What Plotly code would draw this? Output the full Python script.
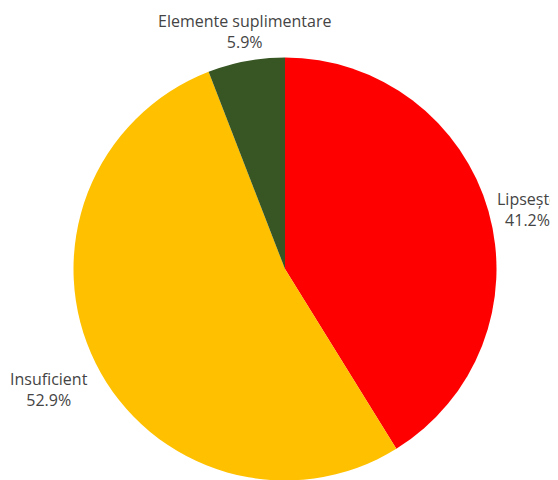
import math
import plotly.graph_objects as go

labels = ["Lipsește", "Insuficient", "Elemente suplimentare"]
values = [7, 9, 1]
colors = ["#FF0000", "#FFC000", "#375623"]

W, H = 558, 480
CX, CY, R = 277.0, 261.0, 211.5   # pie centre and radius in figure pixels (from top-left)
LABEL_R = 1.03 * R

fig = go.Figure(go.Pie(
    labels=labels,
    values=values,
    sort=False,
    direction="clockwise",
    rotation=0,
    marker=dict(colors=colors, line=dict(width=0)),
    textinfo="none",
    automargin=False,
    showlegend=False,
    domain=dict(x=[(CX - R) / W, (CX + R) / W], y=[(H - CY - R) / H, (H - CY + R) / H]),
    hoverinfo="label+percent",
))

# outside labels placed at each slice's mid-angle
total = sum(values)
cum = 0.0
annotations = []
for lab, v in zip(labels, values):
    frac = v / total
    mid = (cum + frac / 2) * 2 * math.pi
    cum += frac
    s, c = math.sin(mid), math.cos(mid)
    px = CX + LABEL_R * s
    py = CY - LABEL_R * c
    xanchor = "left" if s > 0.3 else ("right" if s < -0.3 else "center")
    yanchor = "bottom" if c > 0.3 else ("top" if c < -0.3 else "middle")
    annotations.append(dict(
        x=px / W, y=(H - py) / H, xref="paper", yref="paper",
        text=f"{lab}<br>{frac * 100:.1f}%", showarrow=False,
        xanchor=xanchor, yanchor=yanchor, align="center",
        font=dict(family="Open Sans", size=16, color="#444444"),
    ))

fig.update_layout(
    width=W, height=H,
    margin=dict(l=0, r=0, t=0, b=0),
    paper_bgcolor="white",
    font=dict(family="Open Sans", size=16, color="#444444"),
    annotations=annotations,
)

fig.write_html("out.html")
